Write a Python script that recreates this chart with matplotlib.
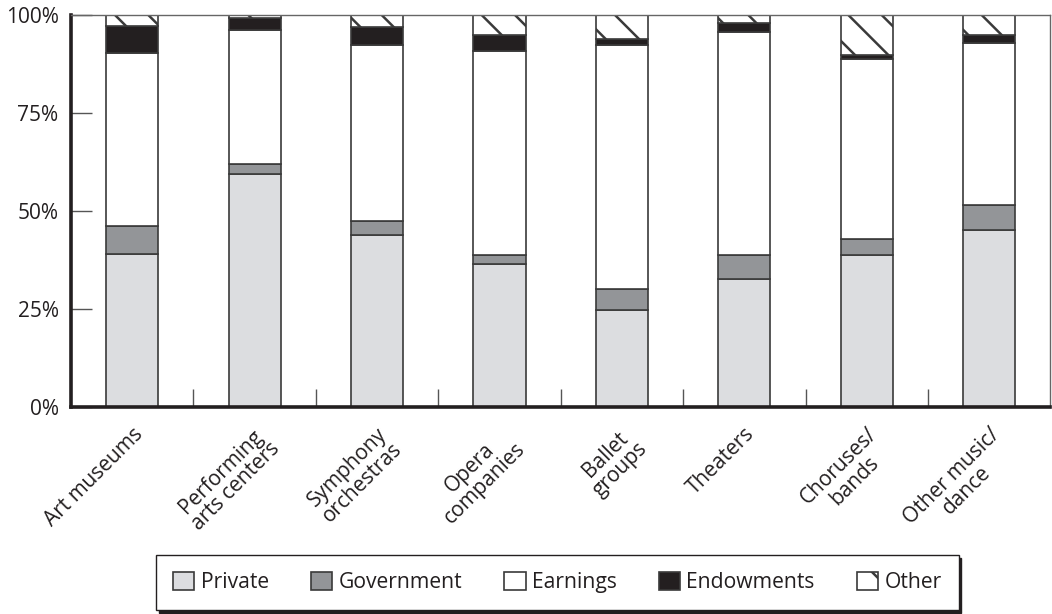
import numpy as np
import matplotlib.pyplot as plt
from matplotlib.ticker import FixedLocator, PercentFormatter

plt.rcParams['font.family'] = ['Open Sans', 'DejaVu Sans']
plt.rcParams['hatch.linewidth'] = 1.8

categories = ['Art museums', 'Performing\narts centers', 'Symphony\norchestras',
              'Opera\ncompanies', 'Ballet\ngroups', 'Theaters',
              'Choruses/\nbands', 'Other music/\ndance']
private = [39.1, 59.6, 44.0, 36.6, 24.8, 32.8, 38.7, 45.1]
government = [7.0, 2.5, 3.4, 2.1, 5.4, 5.9, 4.3, 6.4]
earnings = [44.4, 34.1, 45.0, 52.2, 62.2, 57.0, 45.9, 41.5]
endowments = [6.8, 3.0, 4.7, 4.1, 1.5, 2.4, 1.1, 1.9]
other = [2.7, 0.8, 2.9, 5.0, 6.1, 1.9, 10.0, 5.1]

series = [('Private', private, '#dcdde0', None),
          ('Government', government, '#939598', None),
          ('Earnings', earnings, 'white', None),
          ('Endowments', endowments, '#231f20', None),
          ('Other', other, 'white', '\\')]

fig = plt.figure(figsize=(10.52, 6.14), dpi=100)
ax = fig.add_axes([0.0675, 0.337, 0.931, 0.638])

x = np.arange(len(categories))
bottom = np.zeros(len(categories))
for name, vals, col, hatch in series:
    ax.bar(x, vals, width=0.425, bottom=bottom, color=col, edgecolor='#3a3a3a',
           linewidth=1.2, hatch=hatch, label=name)
    bottom += np.array(vals)

ax.set_xlim(-0.5, 7.5)
ax.set_ylim(0, 100)
ax.set_yticks([0, 25, 50, 75, 100])
ax.yaxis.set_major_formatter(PercentFormatter(decimals=0))
ax.tick_params(axis='y', direction='in', length=15, width=1, color='#555555',
               labelsize=15, pad=9, labelcolor='#231f20')

ax.set_xticks(x)
ax.set_xticklabels(categories, rotation=45, ha='right', rotation_mode='anchor',
                   fontsize=15, color='#231f20', ma='center', linespacing=1.0)
ax.tick_params(axis='x', which='major', length=0, pad=12)
ax.xaxis.set_minor_locator(FixedLocator(x[:-1] + 0.5))
ax.tick_params(axis='x', which='minor', direction='in', length=13, width=1, color='#555555')

for s in ['left', 'bottom']:
    ax.spines[s].set_linewidth(2.6)
    ax.spines[s].set_color('#231f20')
for s in ['top', 'right']:
    ax.spines[s].set_linewidth(1)
    ax.spines[s].set_color('#666666')

leg = fig.legend(loc='center', bbox_to_anchor=(0.53, 0.051), ncol=5, fontsize=15.2,
                 handlelength=1.0, handleheight=0.9, handletextpad=0.3,
                 columnspacing=2.0, fancybox=False, edgecolor='#231f20',
                 borderpad=0.8, shadow={'color': '#231f20', 'alpha': 1})
leg.get_frame().set_linewidth(1)
leg.get_frame().set_boxstyle('square', pad=0)
for t in leg.get_texts():
    t.set_color('#231f20')

fig.savefig('out.png', dpi=100)
